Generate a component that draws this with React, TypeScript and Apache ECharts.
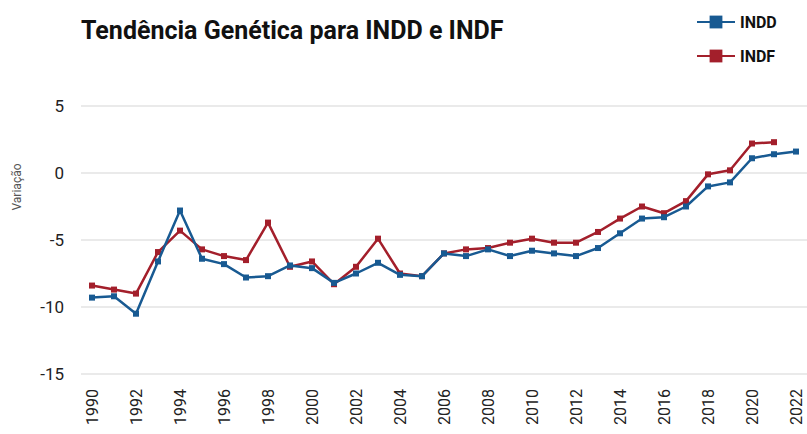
import React, { useEffect, useRef } from "react";
import * as echarts from "echarts";

const years: string[] = [
  "1990","1991","1992","1993","1994","1995","1996","1997","1998","1999",
  "2000","2001","2002","2003","2004","2005","2006","2007","2008","2009",
  "2010","2011","2012","2013","2014","2015","2016","2017","2018","2019",
  "2020","2021","2022",
];
const indd: (number | null)[] = [
  -9.3, -9.2, -10.5, -6.6, -2.8, -6.4, -6.8, -7.8, -7.7, -6.9,
  -7.1, -8.2, -7.5, -6.7, -7.6, -7.7, -6.0, -6.2, -5.7, -6.2,
  -5.8, -6.0, -6.2, -5.6, -4.5, -3.4, -3.3, -2.5, -1.0, -0.7,
  1.1, 1.4, 1.6,
];
const indf: (number | null)[] = [
  -8.4, -8.7, -9.0, -5.9, -4.3, -5.7, -6.2, -6.5, -3.7, -7.0,
  -6.6, -8.3, -7.0, -4.9, -7.5, -7.7, -6.0, -5.7, -5.6, -5.2,
  -4.9, -5.2, -5.2, -4.4, -3.4, -2.5, -3.0, -2.1, -0.1, 0.2,
  2.2, 2.3, null,
];
const yTicks = { min: -15, max: 5, interval: 5 };

const BLUE = "#185a92";
const RED = "#a31f2b";

export default function App() {
  const ref = useRef<HTMLDivElement>(null);
  useEffect(() => {
    if (!ref.current) return;
    const chart = echarts.init(ref.current, undefined, { renderer: "svg" });
    chart.setOption({
      animation: false,
      backgroundColor: "#ffffff",
      title: {
        text: "Tendência Genética para INDD e INDF",
        left: 76,
        top: 13,
        textStyle: { fontFamily: "Roboto", fontWeight: "bold", fontSize: 25, color: "#111" },
      },
      legend: {
        orient: "vertical",
        left: 691,
        top: 9,
        itemWidth: 38,
        itemHeight: 16,
        itemGap: 18,
        textStyle: { fontFamily: "Roboto", fontWeight: "bold", fontSize: 16, color: "#111" },
        data: ["INDD", "INDF"],
      },
      graphic: [
        {
          type: "text",
          x: 17,
          y: 187,
          rotation: Math.PI / 2,
          style: {
            text: "Variação",
            fontFamily: "Roboto",
            fontSize: 12,
            fill: "#555",
            textAlign: "center",
            textVerticalAlign: "middle",
          },
        },
      ],
      grid: { left: 81, right: 0, top: 106, bottom: 60 },
      xAxis: {
        type: "category",
        data: years,
        boundaryGap: true,
        axisLine: { show: false },
        axisTick: { show: false },
        axisLabel: {
          rotate: 90,
          interval: 1,
          margin: 15,
          fontFamily: "Roboto",
          fontSize: 16,
          color: "#222",
        },
      },
      yAxis: {
        type: "value",
        min: yTicks.min,
        max: yTicks.max,
        interval: yTicks.interval,
        axisLine: { show: false },
        axisTick: { show: false },
        axisLabel: { fontFamily: "Roboto", fontSize: 17, color: "#222", margin: 17 },
        splitLine: { lineStyle: { color: "#e3e3e3", width: 1.5 } },
      },
      series: [
        {
          name: "INDD",
          type: "line",
          data: indd,
          color: BLUE,
          symbol: "rect",
          symbolSize: 6,
          lineStyle: { width: 2.5 },
          z: 3,
        },
        {
          name: "INDF",
          type: "line",
          data: indf,
          color: RED,
          symbol: "rect",
          symbolSize: 6,
          lineStyle: { width: 2.5 },
          z: 2,
        },
      ],
    });
    return () => chart.dispose();
  }, []);
  return (
    <div
      ref={ref}
      style={{ position: "fixed", left: 0, top: 0, width: 807, height: 434 }}
    />
  );
}
